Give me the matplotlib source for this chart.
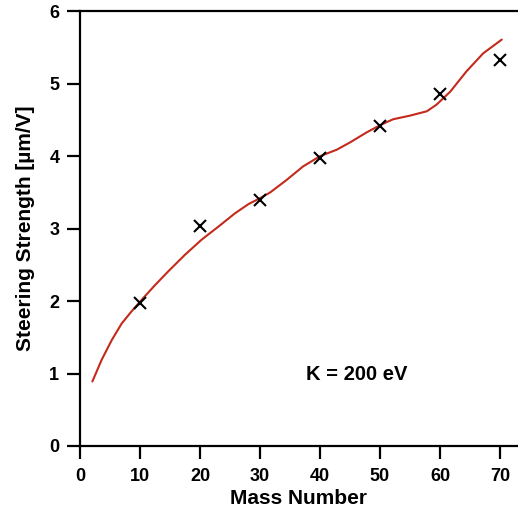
import matplotlib
matplotlib.use("Agg")
import matplotlib.pyplot as plt

# Data
mass_points = [10, 20, 30, 40, 50, 60, 70]
strength_points = [1.98, 3.03, 3.40, 3.97, 4.42, 4.86, 5.33]

curve_mass = [2.06, 3.61, 5.28, 6.94, 8.61, 10.3, 12.5, 14.7, 17.5, 20.3, 23.1,
              25.8, 28.1, 30.0, 31.7, 34.4, 37.2, 40.0, 42.8, 45.0, 47.8, 50.3,
              52.2, 55.0, 57.8, 59.4, 61.7, 64.4, 67.2, 70.3]
curve_strength = [0.89, 1.19, 1.46, 1.69, 1.86, 2.02, 2.22, 2.41, 2.64, 2.85, 3.03,
                  3.21, 3.34, 3.42, 3.50, 3.67, 3.86, 4.00, 4.09, 4.19, 4.33, 4.44,
                  4.51, 4.56, 4.62, 4.71, 4.89, 5.17, 5.42, 5.61]

xticks = [0, 10, 20, 30, 40, 50, 60, 70]
yticks = [0, 1, 2, 3, 4, 5, 6]

plt.rcParams['font.family'] = ['Liberation Sans', 'DejaVu Sans']
plt.rcParams['font.weight'] = 'bold'

fig = plt.figure(figsize=(5.18, 5.15), dpi=100)
ax = fig.add_axes([80/518, 1-446/515, 1-80/518, (446-11.3)/515])

ax.plot(curve_mass, curve_strength, color='#c42a1c', lw=1.5, zorder=2,
        solid_joinstyle='round', solid_capstyle='round')
ax.plot(mass_points, strength_points, linestyle='none', marker='x', color='black',
        markersize=9, mew=1.5, zorder=3)

ax.set_xlim(0, 73)
ax.set_ylim(0, 6)
ax.set_xticks(xticks)
ax.set_yticks(yticks)
ax.set_xticklabels([str(t) for t in xticks], fontsize=13, fontweight='bold')
ax.set_yticklabels([str(t) for t in yticks], fontsize=13, fontweight='bold')

ax.spines['right'].set_visible(False)
for s in ['left', 'bottom', 'top']:
    ax.spines[s].set_linewidth(1.6)
ax.tick_params(axis='both', direction='out', length=9.4, width=1.6)
ax.tick_params(axis='y', pad=5.5)
ax.tick_params(axis='x', pad=6.5)
ax.tick_params(top=False, right=False)

ax.set_xlabel('Mass Number', fontsize=15, fontweight='bold', labelpad=3)
ax.set_ylabel('Steering Strength [µm/V]', fontsize=15, fontweight='bold', labelpad=10)

ax.text(46.1, 0.98, 'K = 200 eV', fontsize=14.5, fontweight='bold',
        ha='center', va='center')

fig.savefig('out.png', dpi=100)
